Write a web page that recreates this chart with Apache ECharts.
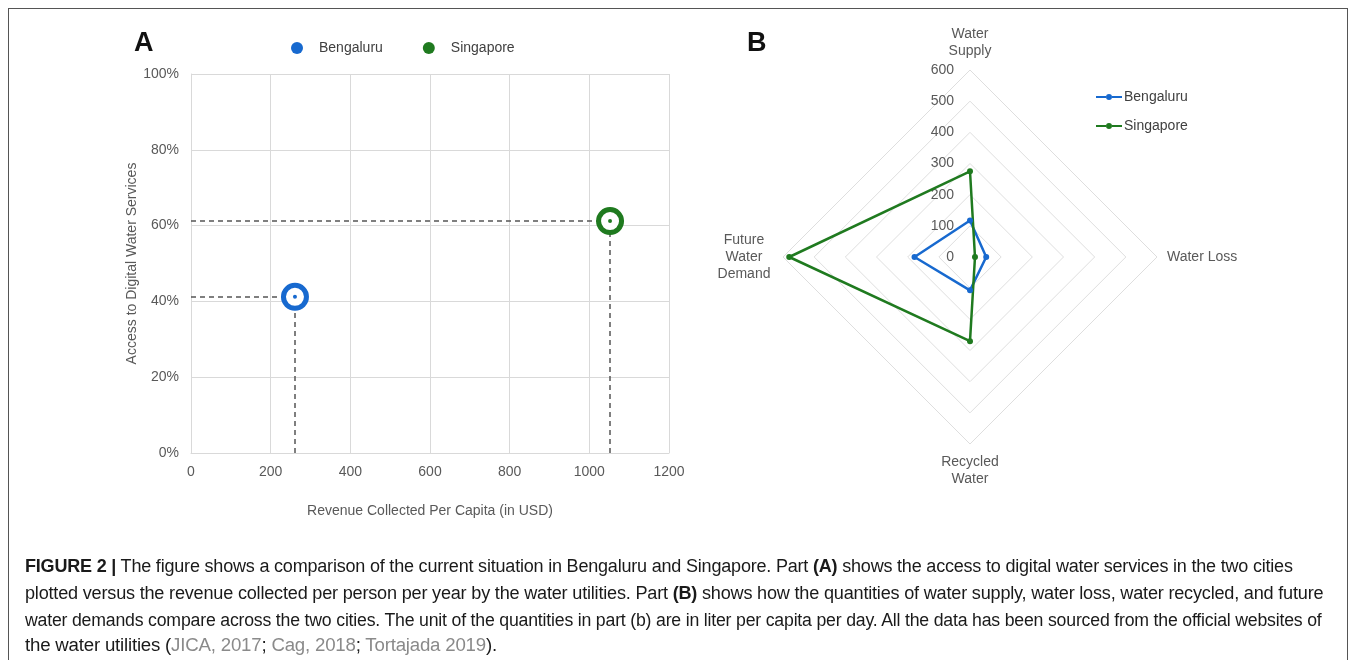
<!DOCTYPE html>
<html>
<head>
<meta charset="utf-8">
<script src="https://cdn.jsdelivr.net/npm/echarts@6/dist/echarts.min.js"></script>
<style>
html,body{margin:0;padding:0;background:#fff;}
#wrap{position:relative;width:1355px;height:660px;overflow:hidden;background:#fff;}
#chart{position:absolute;left:0;top:0;width:1355px;height:660px;}
#frame{position:absolute;left:8px;top:8px;width:1340px;height:720px;border:1px solid #555;box-sizing:border-box;pointer-events:none;}
.cap{position:absolute;left:25px;font-family:'Liberation Sans',Arial,sans-serif;font-size:18px;line-height:22px;color:#1a1a1a;white-space:nowrap;transform-origin:0 0;letter-spacing:-0.2px;}
.cap b{font-weight:bold;}
.ref{color:#8a8a8a;}
</style>
</head>
<body>
<div id="wrap">
  <div id="chart"></div>
  <div id="frame"></div>
  <div class="cap" data-w="1268" style="top:555px;"><b>FIGURE 2 |</b> The figure shows a comparison of the current situation in Bengaluru and Singapore. Part <b>(A)</b> shows the access to digital water services in the two cities</div>
  <div class="cap" data-w="1298" style="top:582px;">plotted versus the revenue collected per person per year by the water utilities. Part <b>(B)</b> shows how the quantities of water supply, water loss, water recycled, and future</div>
  <div class="cap" data-w="1297" style="top:609px;">water demands compare across the two cities. The unit of the quantities in part (b) are in liter per capita per day. All the data has been sourced from the official websites of</div>
  <div class="cap" data-w="472" style="top:634px;">the water utilities (<span class="ref">JICA, 2017</span>; <span class="ref">Cag, 2018</span>; <span class="ref">Tortajada 2019</span>).</div>
</div>
<script>
// ---------- Data ----------
const cities = ['Bengaluru', 'Singapore'];
const revenuePerCapita = [261, 1052];          // USD
const digitalAccess = [41.2, 61.2];            // %
const radarAxes = ['Water\nSupply', 'Water Loss', 'Recycled\nWater', 'Future\nWater\nDemand'];
const bengaluruRadar = [117, 52, 107, 178];    // litre per capita per day
const singaporeRadar = [275, 16, 270, 580];
const radarMax = 600;
const xAxisTitle = 'Revenue Collected Per Capita (in USD)';
const yAxisTitle = 'Access to Digital Water Services';

// ---------- caption fitting (text stays real text) ----------
document.querySelectorAll('.cap').forEach(el => {
  const target = +el.dataset.w;
  const natural = el.scrollWidth;
  if (natural > 0) el.style.transform = 'scaleX(' + (target / natural) + ')';
});

// ---------- Styles ----------
const FONT = "'Liberation Sans', Arial, sans-serif";
const TXT = '#595959';
const cityColors = ['#1769cf', '#1f7a1f'];
const GRIDC = '#d9d9d9';

// ECharts radar lays indicators counter-clockwise from the top;
// the reference goes clockwise: Supply (top), Loss (right), Recycled (bottom), Demand (left)
const drawOrder = [0, 3, 2, 1];
const reorder = arr => drawOrder.map(k => arr[k]);

const series = [];
// dashed guide lines
series.push({
  type: 'line', name: 'guides', data: [], z: 1, silent: true,
  markLine: {
    silent: true, symbol: 'none', animation: false,
    label: { show: false },
    lineStyle: { color: '#555', type: [5, 4], width: 1.5 },
    data: cities.flatMap((c, i) => [
      [{ coord: [0, digitalAccess[i]] }, { coord: [revenuePerCapita[i], digitalAccess[i]] }],
      [{ coord: [revenuePerCapita[i], 0] }, { coord: [revenuePerCapita[i], digitalAccess[i]] }]
    ])
  }
});
cities.forEach((c, i) => {
  const pt = [revenuePerCapita[i], digitalAccess[i]];
  series.push({
    type: 'scatter', name: c, data: [pt], symbol: 'circle', symbolSize: 23, z: 5,
    itemStyle: { color: '#fff', borderColor: cityColors[i], borderWidth: 5, opacity: 1 },
    emphasis: { disabled: true }
  });
  series.push({
    type: 'scatter', name: c, data: [pt], symbol: 'circle', symbolSize: 4, z: 6,
    itemStyle: { color: cityColors[i], opacity: 1 }, emphasis: { disabled: true }
  });
});
series.push({
  type: 'radar', z: 3,
  symbol: 'circle', symbolSize: 6,
  data: [
    { name: cities[0], value: reorder(bengaluruRadar), lineStyle: { color: cityColors[0], width: 2.5 }, itemStyle: { color: cityColors[0] } },
    { name: cities[1], value: reorder(singaporeRadar), lineStyle: { color: cityColors[1], width: 2.5 }, itemStyle: { color: cityColors[1] } }
  ]
});

const lineIcon = 'path://M0,3H10V5H0Z M10,4A3,3,0,1,0,16,4A3,3,0,1,0,10,4Z M16,3H26V5H16Z';

const option = {
  animation: false,
  textStyle: { fontFamily: FONT },
  title: [
    { text: 'A', left: 134, top: 30, padding: 0, textStyle: { fontSize: 27, fontWeight: 'bold', color: '#111', fontFamily: FONT } },
    { text: 'B', left: 747, top: 30, padding: 0, textStyle: { fontSize: 27, fontWeight: 'bold', color: '#111', fontFamily: FONT } }
  ],
  legend: [
    {
      left: 291, top: 41, padding: 0, itemGap: 40, itemWidth: 14, itemHeight: 12, icon: 'circle',
      selectedMode: false,
      textStyle: { color: '#404040', fontSize: 14, fontFamily: FONT, padding: [0, 0, 0, 10] },
      data: cities.map((c, i) => ({ name: c, itemStyle: { color: cityColors[i], borderWidth: 0 } }))
    },
    {
      left: 1096, top: 90, padding: 0, orient: 'vertical', itemGap: 15, itemWidth: 26, itemHeight: 8,
      icon: lineIcon, selectedMode: false,
      textStyle: { color: '#404040', fontSize: 14, fontFamily: FONT, padding: [0, 0, 0, -3] },
      data: cities.map((c, i) => ({ name: c, itemStyle: { color: cityColors[i], borderWidth: 0 } }))
    }
  ],
  grid: { left: 191, right: 1355 - 669, top: 74, bottom: 660 - 453, containLabel: false },
  xAxis: {
    type: 'value', min: 0, max: 1200, interval: 200,
    name: xAxisTitle, nameLocation: 'middle', nameGap: 51,
    nameTextStyle: { color: TXT, fontSize: 14, fontFamily: FONT },
    axisLine: { show: true, lineStyle: { color: GRIDC } },
    axisTick: { show: false },
    axisLabel: { color: TXT, fontSize: 14, margin: 12, fontFamily: FONT, formatter: v => String(v) },
    splitLine: { show: true, lineStyle: { color: GRIDC } }
  },
  yAxis: {
    type: 'value', min: 0, max: 100, interval: 20,
    name: yAxisTitle, nameLocation: 'middle', nameGap: 43, nameRotate: 90,
    nameTextStyle: { color: TXT, fontSize: 14, fontFamily: FONT },
    axisLine: { show: true, lineStyle: { color: GRIDC } },
    axisTick: { show: false },
    axisLabel: { color: TXT, fontSize: 14, margin: 12, formatter: '{value}%', fontFamily: FONT },
    splitLine: { show: true, lineStyle: { color: GRIDC } }
  },
  radar: {
    center: [970, 257], radius: 187, startAngle: 90, shape: 'polygon', splitNumber: 6,
    indicator: drawOrder.map((k, j) => ({
      name: radarAxes[k], min: 0, max: radarMax,
      axisLabel: j === 0 ? {} : { show: false }
    })),
    nameGap: 10,
    axisName: {
      color: TXT, fontSize: 14, lineHeight: 17, fontFamily: FONT,
      formatter: function (name) {
        if (name.indexOf('Demand') >= 0) {
          return name.split('\n').map(s => '{c|' + s + '}').join('\n');
        }
        return name;
      },
      rich: { c: { width: 58, align: 'center', color: TXT, fontSize: 14, lineHeight: 17, fontFamily: FONT } }
    },
    splitLine: { lineStyle: { color: '#dedede', width: 1 } },
    splitArea: { show: false },
    axisLine: { show: false },
    axisTick: { show: false },
    axisLabel: { show: true, color: TXT, fontSize: 14, margin: 16, fontFamily: FONT, showMinLabel: true, showMaxLabel: true }
  },
  series: series
};

const chart = echarts.init(document.getElementById('chart'), null, { renderer: 'canvas' });
chart.setOption(option);
</script>
</body>
</html>
